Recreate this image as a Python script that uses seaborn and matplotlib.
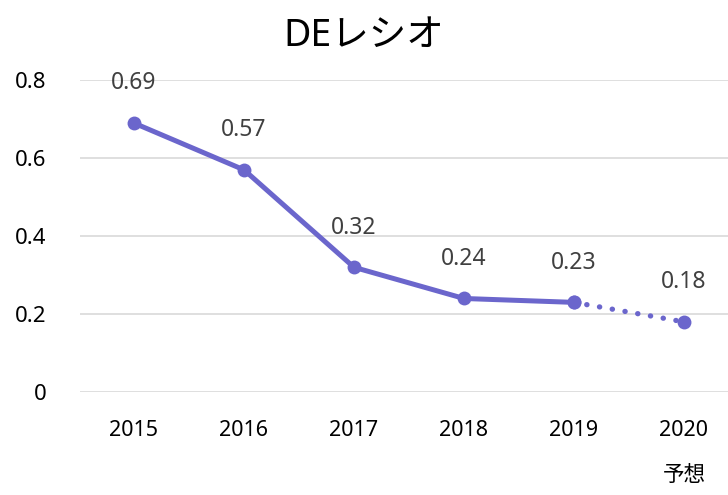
import pandas as pd
import matplotlib.pyplot as plt
import seaborn as sns

# data
years = ['2015', '2016', '2017', '2018', '2019', '2020\n予想']
de_ratio = [0.69, 0.57, 0.32, 0.24, 0.23, 0.18]
labels = ['0.69', '0.57', '0.32', '0.24', '0.23', '0.18']
yticks = [0, 0.2, 0.4, 0.6, 0.8]
ytick_labels = ['0', '0.2', '0.4', '0.6', '0.8']

df = pd.DataFrame({'year': years, 'ratio': de_ratio, 'x': range(len(years))})
actual = df.iloc[:5]      # actual results, solid line
forecast = df.iloc[4:]    # forecast part, dotted line

sns.set_style("white")
plt.rcParams['font.family'] = ['Noto Sans', 'Noto Sans CJK JP', 'DejaVu Sans']

col = '#6b66cc'
fig = plt.figure(figsize=(7.28, 4.95), dpi=100)
ax = fig.add_axes([0.11, 0.208, 0.89, 0.63])

sns.lineplot(data=actual, x='x', y='ratio', ax=ax, color=col, linewidth=3.6,
             marker='o', markersize=10, markeredgewidth=0)
sns.lineplot(data=forecast, x='x', y='ratio', ax=ax, color=col, linewidth=3.8,
             linestyle=(0, (0.05, 2.4)), dash_capstyle='round',
             marker='o', markersize=10, markeredgewidth=0)

# data labels above the points
for i, row in df.iterrows():
    ax.annotate(labels[i], (row['x'], row['ratio']), xytext=(0, 20),
                textcoords='offset points', ha='center', va='bottom',
                fontsize=16.5, color='#404040')

ax.set_ylim(0, 0.8)
ax.set_xlim(-0.49, 5.4)
ax.set_yticks(yticks)
ax.set_yticklabels(ytick_labels, fontsize=16)
ax.set_xticks(range(len(years)))
ax.set_xticklabels(years, fontsize=15.5, linespacing=2.5, va='top')
ax.tick_params(axis='x', pad=20, length=0, labelcolor='black')
ax.tick_params(axis='y', pad=24, length=0, labelcolor='black')
ax.grid(axis='y', color='#d9d9d9', linewidth=1.2)
ax.set_axisbelow(True)
sns.despine(ax=ax, left=True, bottom=True)
ax.set_xlabel('')
ax.set_ylabel('')

fig.suptitle('DEレシオ', fontsize=27, y=0.965, color='black')

plt.savefig('out.png', dpi=100)
